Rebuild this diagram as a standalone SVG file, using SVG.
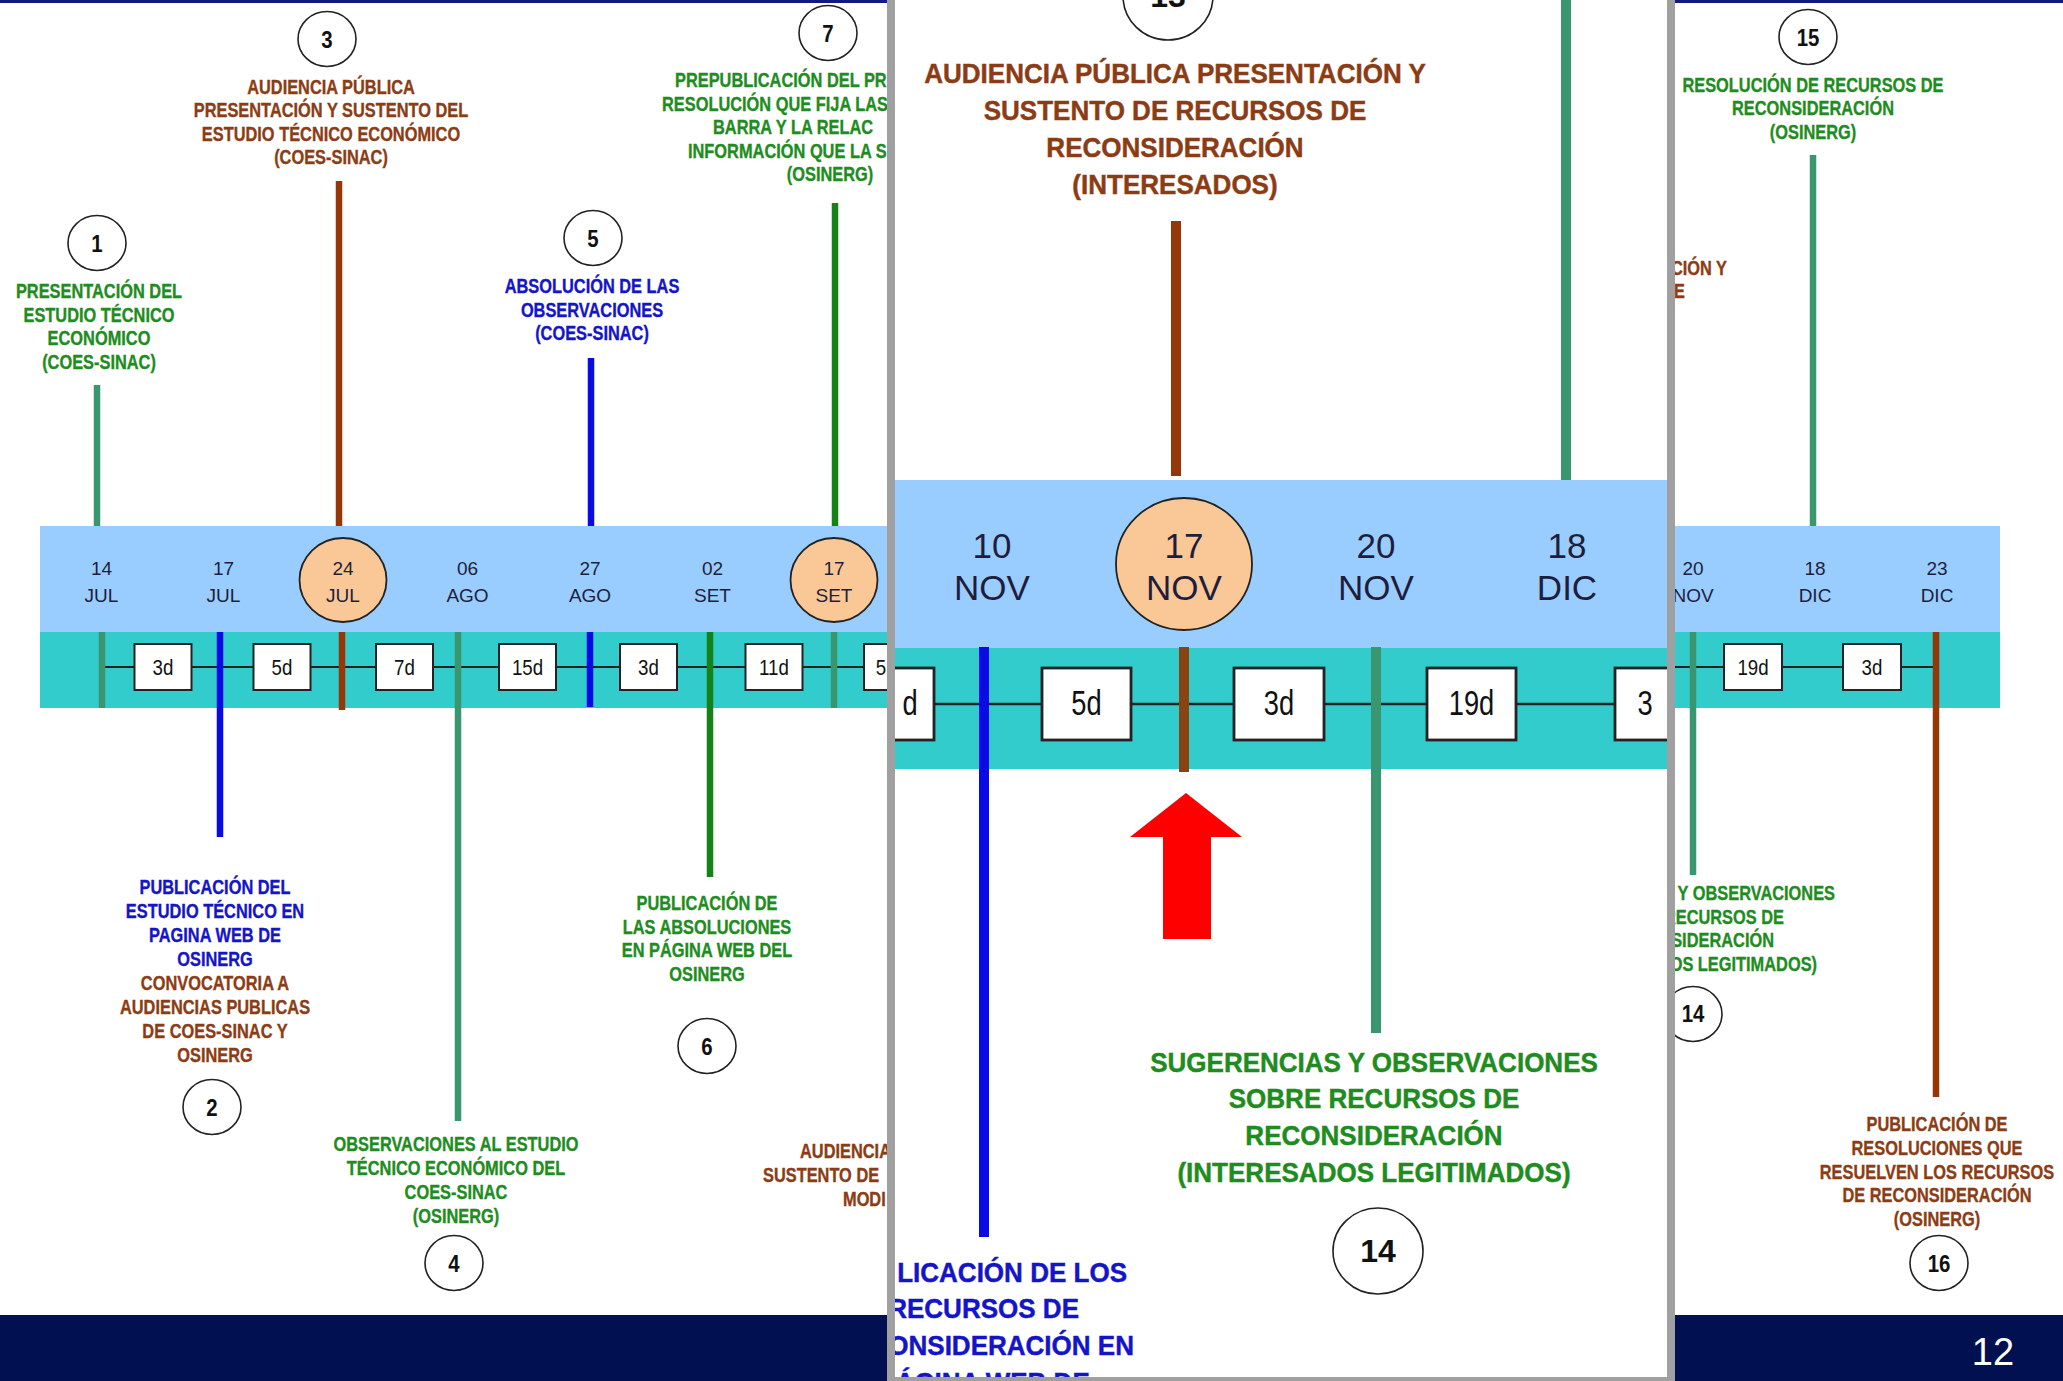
<svg xmlns="http://www.w3.org/2000/svg" width="2063" height="1381" viewBox="0 0 2063 1381">
<defs>
<style>
text{font-family:"Liberation Sans",Arial,Helvetica,sans-serif}
.lb{font-weight:bold;font-size:19.5px;text-anchor:middle;stroke-width:0.35px}
.pl{font-weight:bold;font-size:28px;text-anchor:middle;stroke-width:0.45px}
.st{text-anchor:start}
.en{text-anchor:end}
.g{fill:#1E8C1E;stroke:#1E8C1E}.b{fill:#1414C8;stroke:#1414C8}.r{fill:#8C3C14;stroke:#8C3C14}
.dt{font-size:19px;fill:#1E1E3C;text-anchor:middle}
.pdt{font-size:35px;fill:#1E1E3C;text-anchor:middle}
.du{font-size:22px;fill:#111;text-anchor:middle}
.pdu{font-size:35px;fill:#111;text-anchor:middle}
.nm{font-weight:bold;font-size:24px;fill:#111;text-anchor:middle}
.pnm{font-weight:bold;font-size:32px;fill:#111;text-anchor:middle}
.cw{fill:#fff;stroke:#222;stroke-width:1.6}
.cp{fill:#FAC896;stroke:#222;stroke-width:1.8}
.bx{fill:#fff;stroke:#222;stroke-width:2}
.pbx{fill:#fff;stroke:#222;stroke-width:2.8}
.sg{stroke:#3A966E}.gr{stroke:#148214}.bl{stroke:#0A0AE6}.br{stroke:#96370A}.pbr{stroke:#8A4414}
.t{stroke-width:6.5;fill:none}
.pt{stroke-width:10;fill:none}
</style>
<clipPath id="pc"><rect x="895" y="-10" width="772" height="1387"/></clipPath>
</defs>
<rect x="0" y="0" width="2063" height="1381" fill="#fff"/>
<rect x="0" y="0" width="2063" height="3" fill="#101A80"/>
<rect x="0" y="1315" width="2063" height="66" fill="#001050"/>
<text x="1993" y="1365" font-size="38" fill="#fff" text-anchor="middle">12</text>

<!-- main timeline bands -->
<g id="timeline">
<rect x="40" y="526" width="1960" height="106" fill="#99CCFF"/>
<rect x="40" y="632" width="1960" height="76" fill="#33CCCC"/>
<line x1="102" y1="667" x2="900" y2="667" stroke="#222" stroke-width="2"/>
<line x1="1660" y1="667" x2="1937" y2="667" stroke="#222" stroke-width="2"/>
</g>

<!-- dates -->
<g id="date-14jul"><text class="dt" x="101.5" y="575">14</text><text class="dt" x="101.5" y="602">JUL</text></g>
<g id="date-17jul"><text class="dt" x="223.5" y="575">17</text><text class="dt" x="223.5" y="602">JUL</text></g>
<g id="date-24jul"><ellipse class="cp" cx="343" cy="580" rx="43.5" ry="42"/><text class="dt" x="343" y="575">24</text><text class="dt" x="343" y="602">JUL</text></g>
<g id="date-06ago"><text class="dt" x="467.5" y="575">06</text><text class="dt" x="467.5" y="602">AGO</text></g>
<g id="date-27ago"><text class="dt" x="590" y="575">27</text><text class="dt" x="590" y="602">AGO</text></g>
<g id="date-02set"><text class="dt" x="712.5" y="575">02</text><text class="dt" x="712.5" y="602">SET</text></g>
<g id="date-17set"><ellipse class="cp" cx="834" cy="580" rx="43.5" ry="42"/><text class="dt" x="834" y="575">17</text><text class="dt" x="834" y="602">SET</text></g>
<g id="date-20nov"><text class="dt" x="1693" y="575">20</text><text class="dt" x="1693" y="602">NOV</text></g>
<g id="date-18dic"><text class="dt" x="1815" y="575">18</text><text class="dt" x="1815" y="602">DIC</text></g>
<g id="date-23dic"><text class="dt" x="1937" y="575">23</text><text class="dt" x="1937" y="602">DIC</text></g>

<!-- durations -->
<g id="dur-a"><rect class="bx" x="134.5" y="644" width="57" height="46"/><text class="du" transform="translate(163 675) scale(0.85 1)">3d</text></g>
<g id="dur-b"><rect class="bx" x="253.5" y="644" width="57" height="46"/><text class="du" transform="translate(282 675) scale(0.85 1)">5d</text></g>
<g id="dur-c"><rect class="bx" x="376" y="644" width="57" height="46"/><text class="du" transform="translate(404.5 675) scale(0.85 1)">7d</text></g>
<g id="dur-d"><rect class="bx" x="499" y="644" width="57" height="46"/><text class="du" transform="translate(527.5 675) scale(0.85 1)">15d</text></g>
<g id="dur-e"><rect class="bx" x="620" y="644" width="57" height="46"/><text class="du" transform="translate(648.5 675) scale(0.85 1)">3d</text></g>
<g id="dur-f"><rect class="bx" x="745.5" y="644" width="57" height="46"/><text class="du" transform="translate(774 675) scale(0.85 1)">11d</text></g>
<g id="dur-g"><rect class="bx" x="864" y="644" width="57" height="46"/><text class="du st" transform="translate(881 675) scale(0.85 1)">5</text></g>
<g id="dur-h"><rect class="bx" x="1724" y="644" width="58" height="46"/><text class="du" transform="translate(1753 675) scale(0.85 1)">19d</text></g>
<g id="dur-i"><rect class="bx" x="1843" y="644" width="58" height="46"/><text class="du" transform="translate(1872 675) scale(0.85 1)">3d</text></g>

<!-- connectors -->
<g id="connectors">
<line class="t sg" x1="97" y1="385" x2="97" y2="526"/>
<line class="t sg" x1="102" y1="632" x2="102" y2="708"/>
<line class="t bl" x1="220" y1="632" x2="220" y2="837"/>
<line class="t br" x1="339" y1="181" x2="339" y2="526"/>
<line class="t br" x1="342" y1="632" x2="342" y2="710"/>
<line class="t sg" x1="458" y1="632" x2="458" y2="1121"/>
<line class="t bl" x1="591" y1="358" x2="591" y2="526"/>
<line class="t bl" x1="590" y1="632" x2="590" y2="707"/>
<line class="t gr" x1="710" y1="632" x2="710" y2="877"/>
<line class="t gr" x1="835" y1="203" x2="835" y2="526"/>
<line class="t sg" x1="834" y1="632" x2="834" y2="708"/>
<line class="t sg" x1="1693" y1="632" x2="1693" y2="875"/>
<line class="t sg" x1="1813" y1="155" x2="1813" y2="526"/>
<line class="t br" x1="1936" y1="632" x2="1936" y2="1097"/>
</g>

<!-- events -->
<g id="event-1">
<ellipse class="cw" cx="97" cy="243" rx="29" ry="27.5"/><text class="nm" transform="translate(97 251.5) scale(0.85 1)">1</text>
<text class="lb g" transform="translate(99 298) scale(0.84 1)">PRESENTACIÓN DEL</text>
<text class="lb g" transform="translate(99 321.5) scale(0.84 1)">ESTUDIO TÉCNICO</text>
<text class="lb g" transform="translate(99 345) scale(0.84 1)">ECONÓMICO</text>
<text class="lb g" transform="translate(99 368.5) scale(0.84 1)">(COES-SINAC)</text>
</g>
<g id="event-2">
<text class="lb b" transform="translate(215 894) scale(0.84 1)">PUBLICACIÓN DEL</text>
<text class="lb b" transform="translate(215 918) scale(0.84 1)">ESTUDIO TÉCNICO EN</text>
<text class="lb b" transform="translate(215 942) scale(0.84 1)">PAGINA WEB DE</text>
<text class="lb b" transform="translate(215 966) scale(0.84 1)">OSINERG</text>
<text class="lb r" transform="translate(215 990) scale(0.84 1)">CONVOCATORIA A</text>
<text class="lb r" transform="translate(215 1014) scale(0.84 1)">AUDIENCIAS PUBLICAS</text>
<text class="lb r" transform="translate(215 1038) scale(0.84 1)">DE COES-SINAC Y</text>
<text class="lb r" transform="translate(215 1062) scale(0.84 1)">OSINERG</text>
<ellipse class="cw" cx="212" cy="1107" rx="29" ry="27.5"/><text class="nm" transform="translate(212 1115.5) scale(0.85 1)">2</text>
</g>
<g id="event-3">
<ellipse class="cw" cx="327" cy="39" rx="29" ry="27.5"/><text class="nm" transform="translate(327 47.5) scale(0.85 1)">3</text>
<text class="lb r" transform="translate(331 93.5) scale(0.84 1)">AUDIENCIA PÚBLICA</text>
<text class="lb r" transform="translate(331 117) scale(0.84 1)">PRESENTACIÓN Y SUSTENTO DEL</text>
<text class="lb r" transform="translate(331 140.5) scale(0.84 1)">ESTUDIO TÉCNICO ECONÓMICO</text>
<text class="lb r" transform="translate(331 164) scale(0.84 1)">(COES-SINAC)</text>
</g>
<g id="event-4">
<text class="lb g" transform="translate(456 1151) scale(0.84 1)">OBSERVACIONES AL ESTUDIO</text>
<text class="lb g" transform="translate(456 1175) scale(0.84 1)">TÉCNICO ECONÓMICO DEL</text>
<text class="lb g" transform="translate(456 1199) scale(0.84 1)">COES-SINAC</text>
<text class="lb g" transform="translate(456 1223) scale(0.84 1)">(OSINERG)</text>
<ellipse class="cw" cx="454" cy="1263" rx="29" ry="27.5"/><text class="nm" transform="translate(454 1271.5) scale(0.85 1)">4</text>
</g>
<g id="event-5">
<ellipse class="cw" cx="593" cy="238" rx="29" ry="27.5"/><text class="nm" transform="translate(593 246.5) scale(0.85 1)">5</text>
<text class="lb b" transform="translate(592 293) scale(0.84 1)">ABSOLUCIÓN DE LAS</text>
<text class="lb b" transform="translate(592 316.5) scale(0.84 1)">OBSERVACIONES</text>
<text class="lb b" transform="translate(592 340) scale(0.84 1)">(COES-SINAC)</text>
</g>
<g id="event-6">
<text class="lb g" transform="translate(707 910) scale(0.84 1)">PUBLICACIÓN DE</text>
<text class="lb g" transform="translate(707 934) scale(0.84 1)">LAS ABSOLUCIONES</text>
<text class="lb g" transform="translate(707 957) scale(0.84 1)">EN PÁGINA WEB DEL</text>
<text class="lb g" transform="translate(707 981) scale(0.84 1)">OSINERG</text>
<ellipse class="cw" cx="707" cy="1046" rx="29" ry="27.5"/><text class="nm" transform="translate(707 1054.5) scale(0.85 1)">6</text>
</g>
<g id="event-7">
<ellipse class="cw" cx="828" cy="33" rx="29" ry="27.5"/><text class="nm" transform="translate(828 41.5) scale(0.85 1)">7</text>
<text class="lb g st" transform="translate(675 87) scale(0.84 1)">PREPUBLICACIÓN DEL PR</text>
<text class="lb g st" transform="translate(662 110.5) scale(0.84 1)">RESOLUCIÓN QUE FIJA LAS</text>
<text class="lb g st" transform="translate(713 134) scale(0.84 1)">BARRA Y LA RELAC</text>
<text class="lb g st" transform="translate(688 157.5) scale(0.84 1)">INFORMACIÓN QUE LA S</text>
<text class="lb g" transform="translate(830 181) scale(0.84 1)">(OSINERG)</text>
</g>
<g id="event-audiencia">
<text class="lb r st" transform="translate(800 1158) scale(0.84 1)">AUDIENCIA</text>
<text class="lb r st" transform="translate(763 1182) scale(0.84 1)">SUSTENTO DE</text>
<text class="lb r st" transform="translate(843 1206) scale(0.84 1)">MODI</text>
</g>
<g id="event-13-main">
<text class="lb r en" transform="translate(1727 275) scale(0.84 1)">CIÓN Y</text>
<text class="lb r en" transform="translate(1685 298) scale(0.84 1)">E</text>
</g>
<g id="event-14-main">
<text class="lb g en" transform="translate(1835 900) scale(0.84 1)">Y OBSERVACIONES</text>
<text class="lb g en" transform="translate(1784 923.5) scale(0.84 1)">RECURSOS DE</text>
<text class="lb g en" transform="translate(1774 947) scale(0.84 1)">SIDERACIÓN</text>
<text class="lb g en" transform="translate(1817 970.5) scale(0.84 1)">OS LEGITIMADOS)</text>
<ellipse class="cw" cx="1693" cy="1014" rx="29" ry="27.5"/><text class="nm" transform="translate(1693 1022) scale(0.85 1)">14</text>
</g>
<g id="event-15">
<ellipse class="cw" cx="1808" cy="37" rx="29" ry="27.5"/><text class="nm" transform="translate(1808 45.5) scale(0.85 1)">15</text>
<text class="lb g" transform="translate(1813 91.5) scale(0.84 1)">RESOLUCIÓN DE RECURSOS DE</text>
<text class="lb g" transform="translate(1813 115) scale(0.84 1)">RECONSIDERACIÓN</text>
<text class="lb g" transform="translate(1813 138.5) scale(0.84 1)">(OSINERG)</text>
</g>
<g id="event-16">
<text class="lb r" transform="translate(1937 1131) scale(0.84 1)">PUBLICACIÓN DE</text>
<text class="lb r" transform="translate(1937 1155) scale(0.84 1)">RESOLUCIONES QUE</text>
<text class="lb r" transform="translate(1937 1178.5) scale(0.84 1)">RESUELVEN LOS RECURSOS</text>
<text class="lb r" transform="translate(1937 1202) scale(0.84 1)">DE RECONSIDERACIÓN</text>
<text class="lb r" transform="translate(1937 1226) scale(0.84 1)">(OSINERG)</text>
<ellipse class="cw" cx="1939" cy="1263" rx="29" ry="27.5"/><text class="nm" transform="translate(1939 1271.5) scale(0.85 1)">16</text>
</g>

<!-- magnified panel -->
<g id="magnifier">
<rect x="891" y="-20" width="780" height="1401" fill="#fff"/>
<g clip-path="url(#pc)">
<rect x="895" y="480" width="772" height="168" fill="#99CCFF"/>
<rect x="895" y="648" width="772" height="121" fill="#33CCCC"/>
<line x1="895" y1="704" x2="1667" y2="704" stroke="#222" stroke-width="2.5"/>
<g id="p-date-10nov"><text class="pdt" x="992" y="558">10</text><text class="pdt" x="992" y="600">NOV</text></g>
<g id="p-date-17nov"><ellipse class="cp" cx="1184" cy="564" rx="68" ry="66"/><text class="pdt" x="1184" y="558">17</text><text class="pdt" x="1184" y="600">NOV</text></g>
<g id="p-date-20nov"><text class="pdt" x="1376" y="558">20</text><text class="pdt" x="1376" y="600">NOV</text></g>
<g id="p-date-18dic"><text class="pdt" x="1567" y="558">18</text><text class="pdt" x="1567" y="600">DIC</text></g>
<g id="p-dur-a"><rect class="pbx" x="845" y="668" width="89" height="72"/><text class="pdu en" transform="translate(910 715) scale(0.78 1)">d</text></g>
<g id="p-dur-b"><rect class="pbx" x="1042" y="668" width="89" height="72"/><text class="pdu" transform="translate(1086.5 715) scale(0.78 1)">5d</text></g>
<g id="p-dur-c"><rect class="pbx" x="1234" y="668" width="90" height="72"/><text class="pdu" transform="translate(1279 715) scale(0.78 1)">3d</text></g>
<g id="p-dur-d"><rect class="pbx" x="1427" y="668" width="89" height="72"/><text class="pdu" transform="translate(1471.5 715) scale(0.78 1)">19d</text></g>
<g id="p-dur-e"><rect class="pbx" x="1615" y="668" width="89" height="72"/><text class="pdu st" transform="translate(1645 715) scale(0.78 1)">3</text></g>
<g id="p-connectors">
<line class="pt bl" x1="984" y1="647" x2="984" y2="1237"/>
<line class="pt br" x1="1176" y1="221" x2="1176" y2="476"/>
<line class="pt pbr" x1="1184" y1="647" x2="1184" y2="772"/>
<line class="pt sg" x1="1376" y1="647" x2="1376" y2="1033"/>
<line class="pt sg" x1="1566" y1="-10" x2="1566" y2="480"/>
</g>
<polygon id="red-arrow" points="1186,793 1242,837 1211,837 1211,939 1163,939 1163,837 1130,837" fill="#FF0000"/>
<g id="p-event-13">
<ellipse class="cw" cx="1168" cy="-4" rx="45" ry="44"/><text class="pnm" x="1168" y="7">13</text>
<text class="pl r" transform="translate(1175 83) scale(0.93 1)">AUDIENCIA PÚBLICA PRESENTACIÓN Y</text>
<text class="pl r" transform="translate(1175 120) scale(0.93 1)">SUSTENTO DE RECURSOS DE</text>
<text class="pl r" transform="translate(1175 157) scale(0.93 1)">RECONSIDERACIÓN</text>
<text class="pl r" transform="translate(1175 194) scale(0.93 1)">(INTERESADOS)</text>
</g>
<g id="p-event-14">
<text class="pl g" transform="translate(1374 1072) scale(0.93 1)">SUGERENCIAS Y OBSERVACIONES</text>
<text class="pl g" transform="translate(1374 1108) scale(0.93 1)">SOBRE RECURSOS DE</text>
<text class="pl g" transform="translate(1374 1145) scale(0.93 1)">RECONSIDERACIÓN</text>
<text class="pl g" transform="translate(1374 1182) scale(0.93 1)">(INTERESADOS LEGITIMADOS)</text>
<ellipse class="cw" cx="1378" cy="1251" rx="45" ry="43"/><text class="pnm" x="1378" y="1262">14</text>
</g>
<g id="p-event-12">
<text class="pl b en" transform="translate(1127 1282) scale(0.93 1)">LICACIÓN DE LOS</text>
<text class="pl b en" transform="translate(1079 1318) scale(0.93 1)">RECURSOS DE</text>
<text class="pl b en" transform="translate(1134 1355) scale(0.93 1)">ONSIDERACIÓN EN</text>
<text class="pl b" transform="translate(984 1392) scale(0.93 1)">PÁGINA WEB DE</text>
</g>
</g>
<rect x="891" y="-20" width="780" height="1401" fill="none" stroke="#A0A0A0" stroke-width="8"/>
</g>
</svg>
